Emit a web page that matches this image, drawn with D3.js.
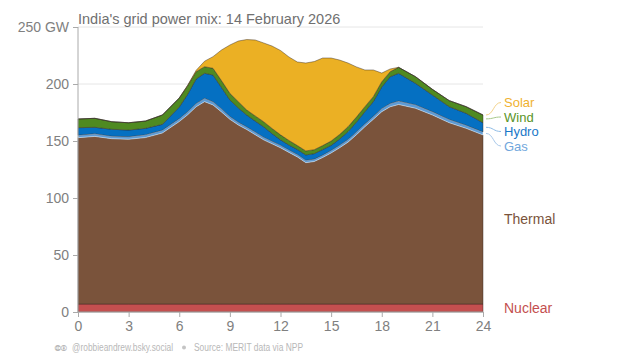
<!DOCTYPE html>
<html><head><meta charset="utf-8">
<script src="https://cdn.jsdelivr.net/npm/d3@7"></script>
<style>
body{margin:0;background:#fff;}
svg{display:block;font-family:"Liberation Sans",Arial,sans-serif;}
</style></head>
<body><svg id="c" width="640" height="360"></svg>
<script>
const hours   = [0,1,2,3,4,5,6,6.5,7,7.5,8,8.5,9,9.5,10,10.5,11,11.5,12,12.5,13,13.5,14,14.5,15,15.5,16,16.5,17,17.5,18,18.5,19,20,21,22,23,24];
const nuclear = [7,7,7,7,7,7,7,7,7,7,7,7,7,7,7,7,7,7,7,7,7,7,7,7,7,7,7,7,7,7,7,7,7,7,7,7,7,7];
const thermal = [145.9,147,145,144.5,146,150,160,166,173,177.5,174.6,168.5,162,157,153,148.5,144,140.5,137,133,129,124,125,128.5,132.5,137,142,148.5,155.5,162,168.7,173,175,171.7,165.8,159,154.1,148.3];
const gas     = [2.2,2.3,2.2,2.3,2.4,2.5,2.6,2.7,2.8,2.9,2.8,2.7,2.5,2.4,2.3,2.3,2.2,2.2,2.2,2.1,2.1,2.1,2.1,2.1,2.2,2.2,2.3,2.4,2.5,2.6,2.7,2.9,3,3,2.9,2.8,2.7,2.7];
const hydro   = [6.6,5.7,6.1,5.8,5.7,5.1,10.2,15.3,21.6,22,23.5,18.8,14.5,12.6,10.5,9.7,9.3,6.8,4.8,4.4,4.4,4.7,4.8,4.9,4.5,5.5,6.9,8.6,10.7,13,19,23.5,24.4,18.9,14.7,11.3,10.5,8];
const wind    = [7.6,7.9,6.6,6.4,6.4,8.2,7.9,7.5,6.4,5.8,5.9,6,5.8,5.5,4.4,4.5,4.4,4.5,4.4,4,3.5,3.5,3.5,3.5,3.8,4,4.3,4.5,4.4,4.3,4.6,4.4,5.2,5.8,4.9,5.3,5.8,6.8];
const solar   = [0,0,0,0,0,0,0,0.5,1.2,4.8,10.2,26.8,42.4,53.2,61.8,66.6,69.1,72.3,74,73.2,73.3,77.1,77.3,76.8,72.8,65.3,55.9,44,32.2,23.4,7.6,2.4,0,0,0,0,0,0];
const xTicks  = [0,3,6,9,12,15,18,21,24];
const yTicks  = [0,50,100,150,200,250];
const seriesNames = ["Nuclear","Thermal","Gas","Hydro","Wind","Solar"];
const title = "India's grid power mix: 14 February 2026";
const footIcons = "\u{1F16D}\u{1F16F}";
const footHandle = "@robbieandrew.bsky.social";
const footSource = "Source: MERIT data via NPP";

const fills  = {Nuclear:"#c44f4f",Thermal:"#7a533b",Gas:"#5d9bd5",Hydro:"#0570c2",Wind:"#4f8a21",Solar:"#ebb024"};
const labCol = {Nuclear:"#c44f4f",Thermal:"#7a533b",Gas:"#6fa6dc",Hydro:"#1a78c8",Wind:"#5a9428",Solar:"#f0b230"};
const leadCol= {Gas:"#a9c9ea",Hydro:"#8fbce6",Wind:"#a8c98a",Solar:"#f4d38a"};

const rows = hours.map((h,i)=>({h, Nuclear:nuclear[i], Thermal:thermal[i], Gas:gas[i], Hydro:hydro[i], Wind:wind[i], Solar:solar[i]}));
const svg = d3.select("#c");
const x = d3.scaleLinear().domain([0,24]).range([78,483]);
const y = d3.scaleLinear().domain([0,250]).range([312,27]);

// grid
svg.append("g").selectAll("line").data(yTicks.slice(1)).join("line")
  .attr("x1",78).attr("x2",483).attr("y1",d=>y(d)).attr("y2",d=>y(d))
  .attr("stroke","#e6e6e6").attr("stroke-width",1);

const stack = d3.stack().keys(seriesNames)(rows);
const area = d3.area().x(d=>x(d.data.h)).y0(d=>y(d[0])).y1(d=>y(d[1]));
svg.append("g").selectAll("path").data(stack).join("path")
  .attr("d",area).attr("fill",d=>fills[d.key])
  .attr("stroke",d=>d.key==="Gas"?"#e3eef8":"rgba(50,40,35,0.55)")
  .attr("stroke-width",d=>d.key==="Gas"?0.6:0.8);

// axes
const ya = d3.axisLeft(y).tickValues(yTicks).tickSize(5).tickPadding(4)
  .tickFormat(d=>d===250?"250 GW":d);
const gy = svg.append("g").attr("transform","translate(78,0)").call(ya);
gy.select(".domain").attr("stroke","#aaa").attr("d","M0,27V312");
gy.selectAll(".tick line").attr("stroke","#aaa");
gy.selectAll("text").attr("fill","#808080").attr("font-size",14).attr("font-family","Liberation Sans, Arial, sans-serif");

const xa = d3.axisBottom(x).tickValues(xTicks).tickSize(5).tickPadding(4);
const gx = svg.append("g").attr("transform","translate(0,312)").call(xa);
gx.select(".domain").attr("stroke","#aaa").attr("d","M78,0H483");
gx.selectAll(".tick line").attr("stroke","#aaa");
gx.selectAll("text").attr("fill","#808080").attr("font-size",14).attr("font-family","Liberation Sans, Arial, sans-serif");

// title
svg.append("text").attr("x",78).attr("y",24).attr("font-size",14.5).attr("fill","#707070").text(title);

// labels
const last = stack.map(s=>({key:s.key, lo:s[s.length-1][0], hi:s[s.length-1][1]}));
const labY = {Solar:102.5, Wind:117, Hydro:131.5, Gas:146};
last.forEach(b=>{
  const mid = y((b.lo+b.hi)/2);
  if (labY[b.key]!==undefined){
    const ly = labY[b.key];
    const x0 = 486, x1 = 501;
    svg.append("path").attr("d",`M${x0},${mid}C${(x0+x1)/2},${mid} ${(x0+x1)/2},${ly} ${x1},${ly}`)
      .attr("fill","none").attr("stroke",leadCol[b.key]).attr("stroke-width",1);
    svg.append("text").attr("x",504).attr("y",ly).attr("dy","0.35em").attr("font-size",13)
      .attr("fill",labCol[b.key]).text(b.key);
  } else {
    svg.append("text").attr("x",504).attr("y",mid).attr("dy","0.35em").attr("font-size",14)
      .attr("fill",labCol[b.key]).text(b.key);
  }
});

// footer
const fg = svg.append("g").attr("fill","#b8b8b8").attr("font-size",10);
fg.append("text").attr("x",55).attr("y",351).attr("font-size",9).text(footIcons);
fg.append("text").attr("x",72).attr("y",351).attr("textLength",101).attr("lengthAdjust","spacingAndGlyphs").text(footHandle);
fg.append("circle").attr("cx",184).attr("cy",347.5).attr("r",2).attr("fill","#c4c4c4");
fg.append("text").attr("x",194).attr("y",351).attr("textLength",109).attr("lengthAdjust","spacingAndGlyphs").text(footSource);
</script></body></html>
